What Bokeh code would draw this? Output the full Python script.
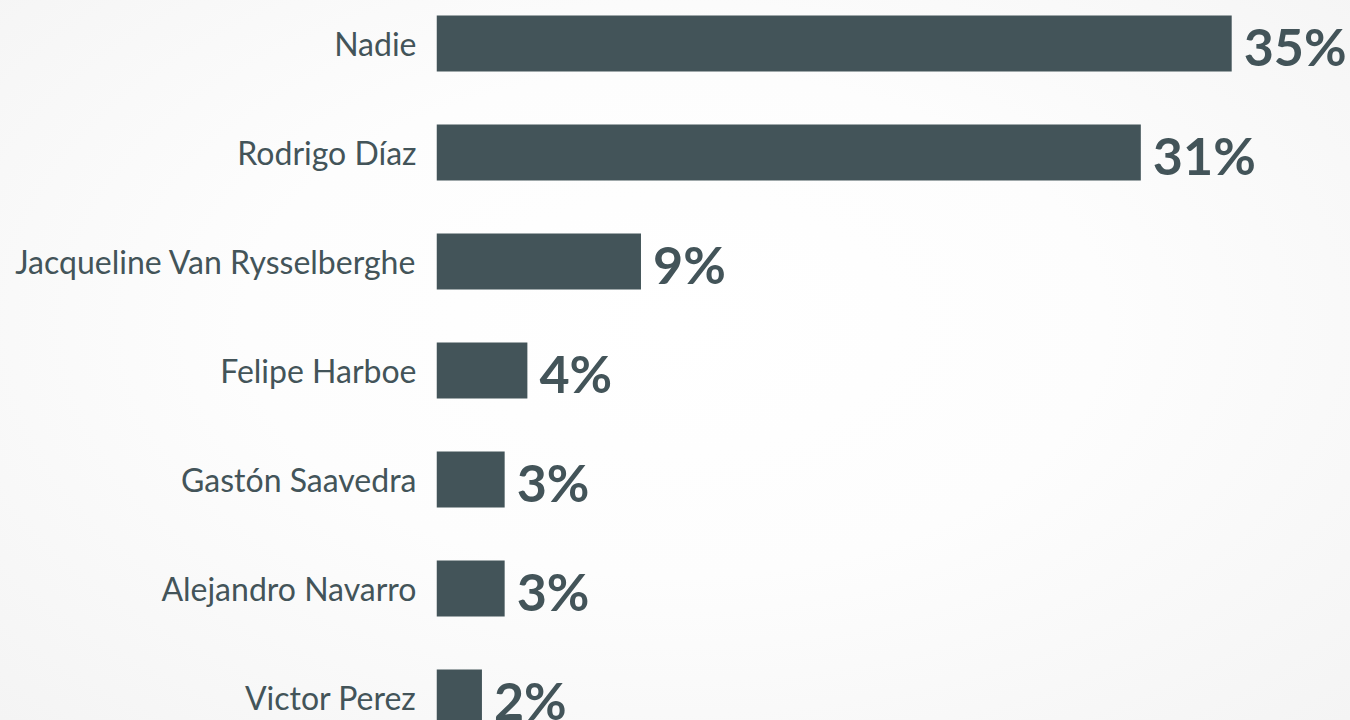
from bokeh.plotting import figure
from bokeh.models import Range1d, LinearAxis, FixedTicker, ColumnDataSource, InlineStyleSheet
from bokeh.core.properties import value
from bokeh.embed import file_html
from bokeh.resources import INLINE

names = ["Nadie", "Rodrigo Díaz", "Jacqueline Van Rysselberghe", "Felipe Harboe",
         "Gastón Saavedra", "Alejandro Navarro", "Victor Perez"]
values = [35, 31, 9, 4, 3, 3, 2]
labels = [f"{v}%" for v in values]

BAR = "#435459"
W, H = 1350, 720
LEFT = 436
pos = list(range(len(names)))

src = ColumnDataSource(dict(y=pos, v=values, lab=labels, name=names))

px_per_unit_y = 109.0
top_off = 43.0
y_end = -top_off / px_per_unit_y
y_start = y_end + H / px_per_unit_y
x_end = (W - LEFT) / 22.72

p = figure(width=W, height=H, output_backend="svg", toolbar_location=None,
           x_range=Range1d(0, x_end), y_range=Range1d(y_start, y_end),
           min_border_left=LEFT, min_border_right=0, min_border_top=0, min_border_bottom=0,
           y_axis_location=None, x_axis_location=None)
p.outline_line_color = None
p.grid.visible = False
p.background_fill_alpha = 0
p.border_fill_alpha = 0
p.stylesheets = [InlineStyleSheet(css=":host { background: radial-gradient(ellipse at 50% 45%, #ffffff 0%, #fdfdfd 45%, #f4f4f4 100%); }")]

p.hbar(y="y", right="v", left=0, height=56 / px_per_unit_y, source=src,
       fill_color=BAR, line_color=None)

p.text(x="v", y="y", text="lab", source=src, x_offset=12, y_offset=2,
       text_font=value("Lato"), text_font_style="bold", text_font_size="52px",
       text_color=BAR, text_baseline="middle", text_align="left")

ax = LinearAxis(ticker=FixedTicker(ticks=pos),
                major_label_overrides={i: n for i, n in enumerate(names)})
ax.axis_line_color = None
ax.major_tick_line_color = None
ax.minor_tick_line_color = None
ax.major_tick_out = 0
ax.major_tick_in = 0
ax.major_label_standoff = 20
ax.major_label_text_font = "Lato"
ax.major_label_text_font_size = "32px"
ax.major_label_text_color = BAR
p.add_layout(ax, "left")

open("out.html", "w").write(file_html(p, INLINE))
